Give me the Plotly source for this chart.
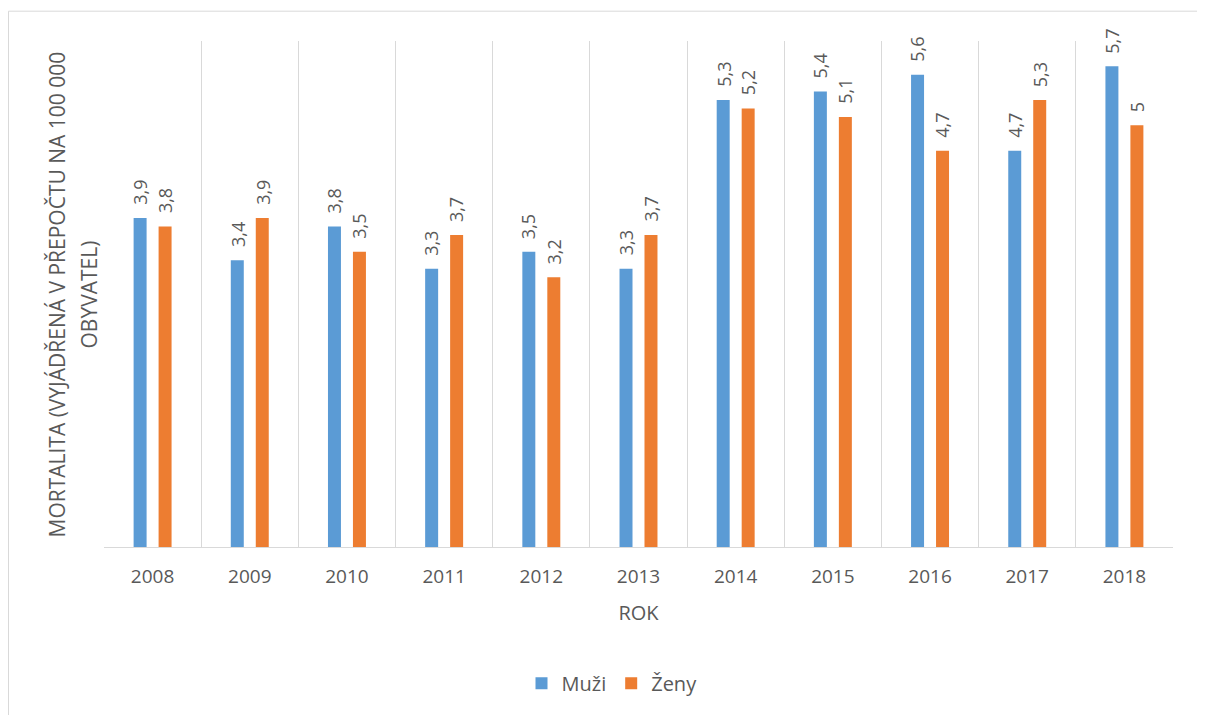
import plotly.graph_objects as go

roky = ["2008", "2009", "2010", "2011", "2012", "2013", "2014", "2015", "2016", "2017", "2018"]
muzi = [3.9, 3.4, 3.8, 3.3, 3.5, 3.3, 5.3, 5.4, 5.6, 4.7, 5.7]
zeny = [3.8, 3.9, 3.5, 3.7, 3.2, 3.7, 5.2, 5.1, 4.7, 5.3, 5.0]

FONT = "Open Sans"
GRAY = "#595959"
W, H = 1197, 707
L, R, T, B = 96, 32, 33, 165
PW, PH = W - L - R, H - T - B

def lbl(v):
    return ("%g" % v).replace(".", ",")

fig = go.Figure()
series = [("Muži", muzi, "#5B9BD5", -12.5), ("Ženy", zeny, "#ED7D31", 12.5)]
annotations = []
for name, vals, col, dx in series:
    fig.add_trace(go.Bar(
        x=roky, y=vals, name=name, marker=dict(color=col, line=dict(width=0)),
        hoverinfo="x+y+name",
    ))
    for i, v in enumerate(vals):
        annotations.append(dict(
            x=i, y=v, xref="x", yref="y", text=lbl(v), showarrow=False,
            textangle=-90, xanchor="center", yanchor="bottom", xshift=dx, yshift=11,
            font=dict(family=FONT, size=18, color=GRAY)))

annotations += [
    dict(text="MORTALITA (VYJÁDŘENÁ V PŘEPOČTU NA 100 000", xref="paper", yref="paper",
         x=(49 - L) / PW, y=(542 - 288) / PH, xanchor="center", yanchor="middle",
         textangle=-90, showarrow=False, font=dict(family=FONT, size=21, color=GRAY)),
    dict(text="OBYVATEL)", xref="paper", yref="paper",
         x=(81 - L) / PW, y=(542 - 288) / PH, xanchor="center", yanchor="middle",
         textangle=-90, showarrow=False, font=dict(family=FONT, size=21, color=GRAY)),
]

fig.update_layout(
    width=W, height=H,
    margin=dict(l=L, r=R, t=T, b=B),
    paper_bgcolor="white", plot_bgcolor="white",
    barmode="group", bargap=0.486, bargroupgap=0.48,
    font=dict(family=FONT, color=GRAY),
    showlegend=True,
    legend=dict(orientation="h", x=(604 - L) / PW, y=(542 - 679) / PH,
                xanchor="center", yanchor="middle",
                font=dict(family=FONT, size=20, color=GRAY), itemwidth=30,
                traceorder="normal"),
    xaxis=dict(type="category", tickson="boundaries", showgrid=True, gridcolor="#D9D9D9",
               gridwidth=1, ticks="", showline=True, linecolor="#D9D9D9", linewidth=1,
               tickangle=0, range=[-0.5, len(roky) - 0.5], ticklabelstandoff=12,
               tickfont=dict(family=FONT, size=19, color=GRAY),
               title=dict(text="ROK", font=dict(family=FONT, size=20, color=GRAY), standoff=18)),
    yaxis=dict(range=[0, 6], showgrid=False, showticklabels=False, zeroline=False,
               showline=False, ticks=""),
    shapes=[dict(type="rect", xref="paper", yref="paper",
                 x0=(0.5 - L) / PW, x1=(1194 - L) / PW,
                 y0=(542 - 730) / PH, y1=(542 - 3) / PH,
                 line=dict(color="#D9D9D9", width=1), fillcolor="rgba(0,0,0,0)")],
    annotations=annotations,
)

fig.write_html("out.html")
